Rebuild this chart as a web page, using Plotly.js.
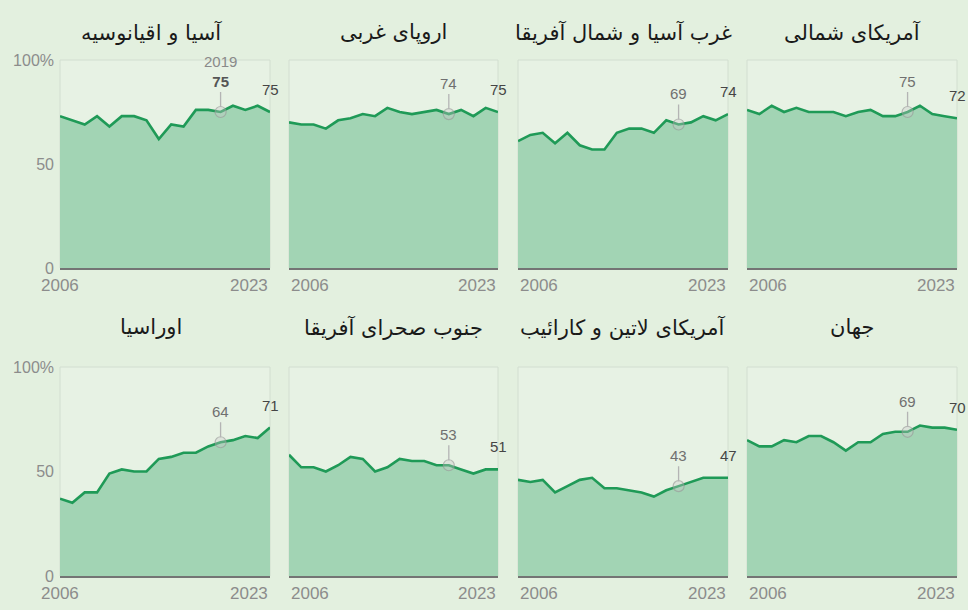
<!DOCTYPE html>
<html>
<head>
<meta charset="utf-8">
<script src="https://cdn.plot.ly/plotly-3.0.1.min.js"></script>
<style>
html,body{margin:0;padding:0;background:#e3f0df;}
#chart{width:968px;height:610px;}
</style>
</head>
<body>
<div id="chart"></div>
<script>
// ---------- DATA ----------
const years = [2006,2007,2008,2009,2010,2011,2012,2013,2014,2015,2016,2017,2018,2019,2020,2021,2022,2023];

const titles = [
  "آسیا و اقیانوسیه",
  "اروپای غربی",
  "غرب آسیا و شمال آفریقا",
  "آمریکای شمالی",
  "اوراسیا",
  "جنوب صحرای آفریقا",
  "آمریکای لاتین و کارائیب",
  "جهان"
];

const asiaOceania   = [73,71,69,73,68,73,73,71,62,69,68,76,76,75,78,76,78,75];
const westernEurope = [70,69,69,67,71,72,74,73,77,75,74,75,76,74,76,73,77,75];
const westAsiaNAfr  = [61,64,65,60,65,59,57,57,65,67,67,65,71,69,70,73,71,74];
const northAmerica  = [76,74,78,75,77,75,75,75,73,75,76,73,73,75,78,74,73,72];
const eurasia       = [37,35,40,40,49,51,50,50,56,57,59,59,62,64,65,67,66,71];
const subSaharan    = [58,52,52,50,53,57,56,50,52,56,55,55,53,53,51,49,51,51];
const latinAmerica  = [46,45,46,40,43,46,47,42,42,41,40,38,41,43,45,47,47,47];
const world         = [65,62,62,65,64,67,67,64,60,64,64,68,69,69,72,71,71,70];

const seriesList = [asiaOceania, westernEurope, westAsiaNAfr, northAmerica,
                    eurasia, subSaharan, latinAmerica, world];

const highlightYear = 2019;
const yTickVals = [0, 50, 100];
const yTickText = ["0", "50", "100%"];

// ---------- LAYOUT ----------
const W = 968, H = 610;
const colsPx = [[60,270],[289,498],[518,728],[747,957]];
const rowsPx = [[60,268],[367,576]];
const titleOffset = [28, 40];

const fillCol = "#a2d4b4";
const lineCol = "#1f9a57";
const tickCol = "#8c8c8c";
const numFont = "Liberation Sans, Arial, sans-serif";

const traces = [];
const layout = {
  width: W, height: H,
  margin: {l:0, r:0, t:0, b:0},
  paper_bgcolor: "#e3f0df",
  plot_bgcolor: "#e7f2e4",
  showlegend: false,
  annotations: [],
  shapes: [],
  font: {family: numFont, size: 13, color: tickCol}
};

const px2x = p => p / W;
const px2y = p => 1 - p / H;

seriesList.forEach((vals, i) => {
  const r = Math.floor(i / 4), c = i % 4;
  const n = i + 1;
  const xa = n === 1 ? "xaxis" : "xaxis" + n;
  const ya = n === 1 ? "yaxis" : "yaxis" + n;
  const xr = n === 1 ? "x" : "x" + n;
  const yr = n === 1 ? "y" : "y" + n;
  const [x0, x1] = colsPx[c];
  const [top, bot] = rowsPx[r];

  layout[xa] = {
    domain: [px2x(x0), px2x(x1)], anchor: yr,
    range: [years[0], years[years.length-1]],
    showgrid: false, zeroline: false, showticklabels: false, ticks: "",
    showline: true, linecolor: "#747474", linewidth: 2, fixedrange: true
  };
  layout[ya] = {
    domain: [px2y(bot), px2y(top)], anchor: xr,
    range: [0, 100],
    showgrid: false, zeroline: false, ticks: "",
    tickvals: yTickVals, ticktext: yTickText,
    showticklabels: c === 0,
    ticklabelstandoff: 5,
    tickfont: {family: numFont, size: 16, color: tickCol},
    showline: false, fixedrange: true
  };

  // plot border
  layout.shapes.push({
    type: "rect", xref: "paper", yref: "paper",
    x0: px2x(x0), x1: px2x(x1), y0: px2y(bot), y1: px2y(top),
    line: {color: "#d2ded0", width: 1}, layer: "below"
  });

  // area
  traces.push({
    x: years, y: vals, xaxis: xr, yaxis: yr,
    type: "scatter", mode: "lines", fill: "tozeroy",
    fillcolor: fillCol,
    line: {color: lineCol, width: 2.6},
    hoverinfo: "skip"
  });

  // highlighted point marker
  const hi = years.indexOf(highlightYear);
  traces.push({
    x: [years[hi]], y: [vals[hi]], xaxis: xr, yaxis: yr,
    type: "scatter", mode: "markers",
    marker: {size: 11, color: "rgba(200,200,200,0.35)",
             line: {color: "rgba(150,150,150,0.6)", width: 1.2}},
    hoverinfo: "skip", cliponaxis: false
  });

  // highlighted label with leader
  const hiText = i === 0
    ? "<span style='color:#8a8a8a'>" + highlightYear + "</span><br><b>" + vals[hi] + "</b>"
    : String(vals[hi]);
  layout.annotations.push({
    x: years[hi], y: vals[hi], xref: xr, yref: yr,
    text: hiText, showarrow: true, ax: 0, ay: -20,
    arrowhead: 0, arrowwidth: 1.3, arrowcolor: "#b4b4b4", standoff: 5,
    font: {family: numFont, size: 15, color: i === 0 ? "#555" : "#707070"},
    yanchor: "bottom"
  });

  // end label
  const last = vals.length - 1;
  layout.annotations.push({
    x: years[last], y: vals[last], xref: xr, yref: yr,
    text: String(vals[last]), showarrow: false,
    xanchor: "center", yanchor: "bottom", yshift: 12,
    font: {family: numFont, size: 15, color: "#454545"}
  });

  // x labels
  layout.annotations.push({
    x: px2x(x0), y: px2y(bot + 17), xref: "paper", yref: "paper",
    text: String(years[0]), showarrow: false,
    xanchor: c === 0 ? "center" : "left", yanchor: "middle",
    font: {family: numFont, size: 17, color: tickCol}
  });
  layout.annotations.push({
    x: px2x(x1), y: px2y(bot + 17), xref: "paper", yref: "paper",
    text: String(years[last]), showarrow: false,
    xanchor: "right", yanchor: "middle",
    font: {family: numFont, size: 17, color: tickCol}
  });

  // title
  const tcx = c === 0 ? 151 : (x0 + x1) / 2;
  layout.annotations.push({
    x: px2x(tcx), y: px2y(top - titleOffset[r]), xref: "paper", yref: "paper",
    text: titles[i], showarrow: false, xanchor: "center", yanchor: "middle",
    font: {family: "DejaVu Sans, Noto Sans, sans-serif", size: 21, color: "#1a1a1a"}
  });
});

Plotly.newPlot("chart", traces, layout, {staticPlot: true, displayModeBar: false});
</script>
</body>
</html>
